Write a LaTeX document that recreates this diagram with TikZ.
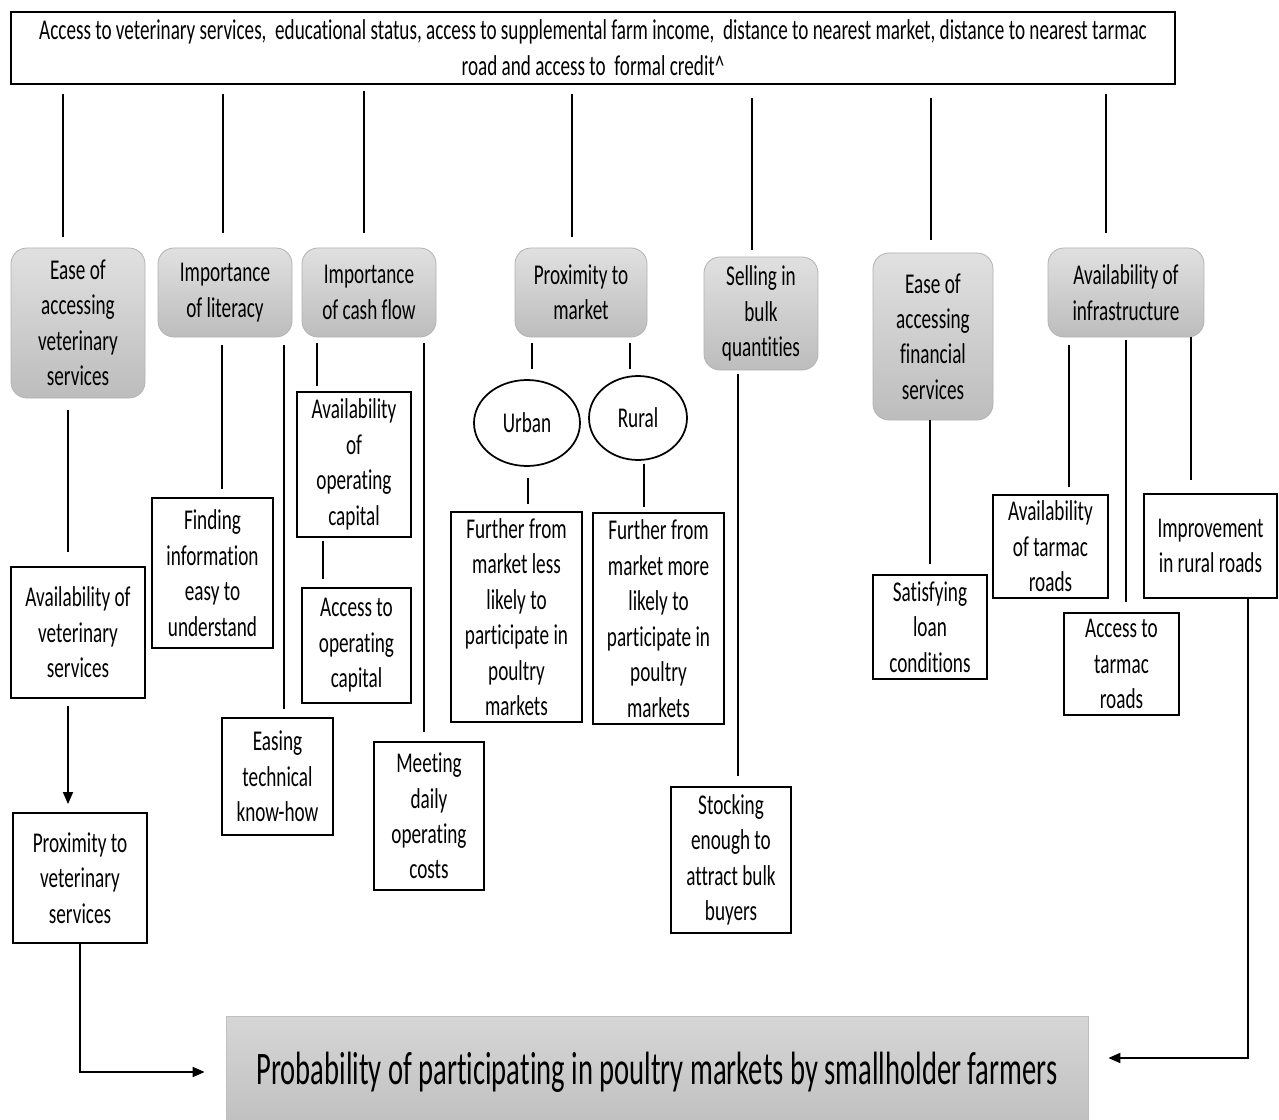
\documentclass[tikz,border=0pt]{standalone}
\usepackage{fontspec}
\setmainfont[FakeStretch=0.67, Ligatures=NoCommon]{Carlito}
\newfontfamily\headfont[FakeStretch=0.668, Ligatures=NoCommon]{Carlito}
\newfontfamily\titlefont[FakeStretch=0.613, Ligatures=NoCommon]{Carlito}
\usetikzlibrary{arrows.meta,shapes.geometric}

% lengths given in pixel units of the drawing grid
\newcommand\px[1]{#1*0.75pt}

\tikzset{
  txt/.style={font=\fontsize{21.5}{26.6}\selectfont, align=center, inner sep=0pt},
  greybox/.style={txt, rounded corners=12pt, draw=black!30, line width=0.6pt,
                  top color=black!12, bottom color=black!26},
  whitebox/.style={txt, draw=black, line width=1.4pt, fill=white},
  oval/.style={txt, ellipse, draw=black, line width=1.3pt},
  link/.style={draw=black, line width=1.1pt},
  arrow/.style={link, line width=1.4pt, -{Triangle[length=9pt,width=7.5pt]}}
}

% vertical connector at abscissa #1 from the bottom of #2 to the top of #3,
% leaving gaps of #4 and #5 pixels at the two ends
\newcommand\conn[5]{\draw[link, shorten <=\px{#4}, shorten >=\px{#5}]
  (#2.south -| #1,0) -- (#3.north -| #1,0);}

\begin{document}
\begin{tikzpicture}[x=0.75pt, y=-0.75pt]
\useasboundingbox[fill=white] (0,0) rectangle (1279,1120);

% factors
\node[whitebox, line width=1.5pt, minimum width=\px{1164}, minimum height=\px{72},
      font=\headfont\fontsize{21.5}{27}\selectfont] (top) at (593,48)
  {Access to veterinary services,\ \ educational status, access to supplemental farm income,\ \ distance to nearest market, distance to nearest tarmac\\
   road and access to\ \ formal credit\textasciicircum};

% themes
\node[greybox, minimum width=\px{134}, minimum height=\px{150}] (vet) at (78,323)
  {Ease of\\accessing\\veterinary\\services};
\node[greybox, minimum width=\px{134}, minimum height=\px{89}] (lit) at (225,292.5)
  {Importance\\of literacy};
\node[greybox, minimum width=\px{134}, minimum height=\px{89}] (cash) at (369,292.5)
  {Importance\\of cash flow};
\node[greybox, minimum width=\px{132}, minimum height=\px{89}] (mkt) at (581,292.5)
  {Proximity to\\market};
\node[greybox, minimum width=\px{114}, minimum height=\px{113}] (bulk) at (761,313.5)
  {Selling in\\bulk\\quantities};
\node[greybox, minimum width=\px{120}, minimum height=\px{167}] (fin) at (933,336.5)
  {Ease of\\accessing\\financial\\services};
\node[greybox, minimum width=\px{156}, minimum height=\px{89}] (infra) at (1126,292.5)
  {Availability of\\infrastructure};

% sub-themes
\node[whitebox, minimum width=\px{134}, minimum height=\px{131}] (availvet) at (78,632.5)
  {Availability of\\veterinary\\services};
\node[whitebox, minimum width=\px{134}, minimum height=\px{130}] (proxvet) at (80,878)
  {Proximity to\\veterinary\\services};
\node[whitebox, minimum width=\px{121}, minimum height=\px{150}] (finding) at (212.5,573)
  {Finding\\information\\easy to\\understand};
\node[whitebox, minimum width=\px{111}, minimum height=\px{117}] (easing) at (277.5,776.5)
  {Easing\\technical\\know-how};
\node[whitebox, minimum width=\px{114}, minimum height=\px{145}] (availcap) at (354,464.5)
  {Availability\\of\\operating\\capital};
\node[whitebox, minimum width=\px{109}, minimum height=\px{115}] (accesscap) at (356.5,645.5)
  {Access to\\operating\\capital};
\node[whitebox, minimum width=\px{110}, minimum height=\px{148}] (meeting) at (429,816)
  {Meeting\\daily\\operating\\costs};
\node[oval, minimum width=\px{106}, minimum height=\px{86}] (urban) at (527,423) {Urban};
\node[oval, minimum width=\px{98}, minimum height=\px{84}] (rural) at (638,418) {Rural};
\node[whitebox, minimum width=\px{131}, minimum height=\px{210}] (less) at (516.5,617)
  {Further from\\market less\\likely to\\participate in\\poultry\\markets};
\node[whitebox, minimum width=\px{131}, minimum height=\px{211}] (more) at (658.5,618.5)
  {Further from\\market more\\likely to\\participate in\\poultry\\markets};
\node[whitebox, minimum width=\px{120}, minimum height=\px{146}] (stock) at (731,860)
  {Stocking\\enough to\\attract bulk\\buyers};
\node[whitebox, minimum width=\px{114}, minimum height=\px{104}] (loan) at (930,627)
  {Satisfying\\loan\\conditions};
\node[whitebox, minimum width=\px{115}, minimum height=\px{103}] (availtar) at (1050.5,546.5)
  {Availability\\of tarmac\\roads};
\node[whitebox, minimum width=\px{115}, minimum height=\px{102}] (accesstar) at (1121.5,664)
  {Access to\\tarmac\\roads};
\node[whitebox, minimum width=\px{133}, minimum height=\px{104}] (rural roads) at (1210.5,546)
  {Improvement\\in rural roads};

% outcome
\node[txt, draw=black!25, line width=0.6pt, top color=black!16, bottom color=black!25,
      minimum width=\px{862}, minimum height=\px{112},
      font=\titlefont\fontsize{35}{40}\selectfont] (outcome) at (657,1072)
  {Probability of participating in poultry markets by smallholder farmers};

% factors to themes
\conn{63}{top}{vet}{9}{11}
\conn{223}{top}{lit}{9}{15}
\conn{364}{top}{cash}{6}{15}
\conn{572}{top}{mkt}{9}{11}
\conn{752}{top}{bulk}{13}{7}
\conn{931}{top}{fin}{13}{13}
\conn{1106}{top}{infra}{9}{15}

% themes to sub-themes
\conn{68}{vet}{availvet}{12}{14}
\conn{222}{lit}{finding}{8}{8}
\conn{284}{lit}{easing}{8}{8}
\conn{317}{cash}{availcap}{6}{5}
\conn{323}{availcap}{accesscap}{3}{8}
\conn{424}{cash}{meeting}{6}{9}
\conn{532}{mkt}{urban}{6}{10}
\conn{630}{mkt}{rural}{6}{6}
\conn{528}{urban}{less}{11}{7}
\conn{644}{rural}{more}{3}{5}
\conn{738}{bulk}{stock}{4}{10}
\conn{930}{fin}{loan}{0}{10}
\conn{1069}{infra}{availtar}{8}{7}
\conn{1126}{infra}{accesstar}{3}{10}
\conn{1191}{infra}{rural roads}{0}{13}

% paths into the outcome
\draw[arrow, shorten <=\px{7}, shorten >=\px{8}] (availvet.south -| 68,0) -- (proxvet.north -| 68,0);
\draw[arrow, shorten >=\px{21}] (proxvet.south -| 80,0) |- (outcome.west);
\draw[arrow, shorten >=\px{20}] (rural roads.south -| 1248,0) |- (outcome.east |- 0,1058);
\end{tikzpicture}
\end{document}
